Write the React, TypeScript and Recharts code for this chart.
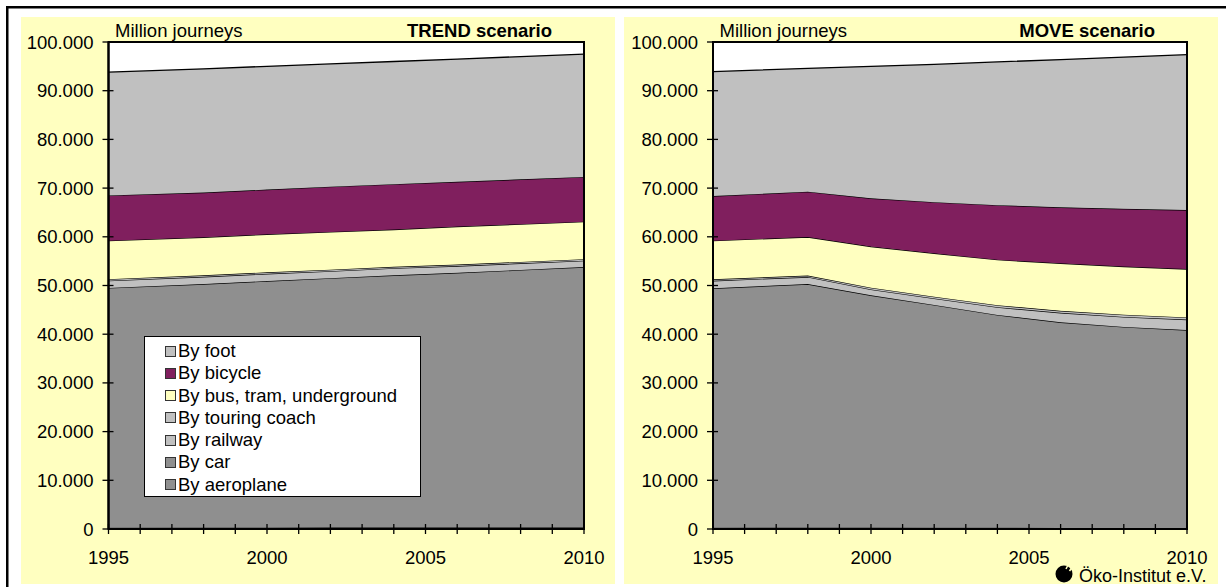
import React from 'react';
import { AreaChart, Area, XAxis, YAxis, CartesianGrid, ReferenceArea } from 'recharts';

// Years with readings, and the axis tick lists
const years = [1995, 1998, 2000, 2002, 2004, 2006, 2008, 2010];
const yearTicks = [1995, 1996, 1997, 1998, 1999, 2000, 2001, 2002, 2003, 2004, 2005, 2006, 2007, 2008, 2009, 2010];
const valueTicks = [0, 10000, 20000, 30000, 40000, 50000, 60000, 70000, 80000, 90000, 100000];

// Series, bottom of the stack first
const seriesKeys = ['aeroplane', 'car', 'railway', 'coach', 'bus', 'bicycle', 'foot'];
const seriesLabels = ['By aeroplane', 'By car', 'By railway', 'By touring coach', 'By bus, tram, underground', 'By bicycle', 'By foot'];

// TREND scenario, million journeys per mode
const trendAeroplane = [250, 270, 280, 290, 300, 310, 320, 330];
const trendCar = [49250, 50030, 50620, 51210, 51800, 52290, 52880, 53470];
const trendRailway = [1500, 1500, 1500, 1450, 1450, 1400, 1350, 1300];
const trendCoach = [300, 300, 300, 300, 300, 300, 300, 300];
const trendBus = [7900, 7800, 7800, 7750, 7650, 7800, 7750, 7700];
const trendBicycle = [9300, 9200, 9200, 9300, 9300, 9200, 9200, 9200];
const trendFoot = [25300, 25400, 25300, 25200, 25200, 25200, 25200, 25200];

// MOVE scenario, million journeys per mode
const moveAeroplane = [250, 270, 260, 250, 240, 230, 220, 210];
const moveCar = [49180, 50030, 47740, 45750, 43710, 42220, 41280, 40640];
const moveRailway = [1550, 1450, 1200, 1350, 1600, 1950, 2050, 2150];
const moveCoach = [300, 300, 350, 350, 400, 400, 450, 450];
const moveBus = [7920, 7910, 8450, 8900, 9350, 9750, 9900, 9940];
const moveBicycle = [9180, 9300, 9900, 10500, 11200, 11500, 11850, 12110];
const moveFoot = [25520, 25340, 27100, 28300, 29400, 30350, 31150, 31900];

const COLORS: Record<string, string> = {
  aeroplane: '#8f8f8f',
  car: '#8f8f8f',
  railway: '#c0c0c0',
  coach: '#c0c0c0',
  bus: '#ffffc0',
  bicycle: '#801f5e',
  foot: '#c0c0c0',
};

const FONT = "Arial, 'Liberation Sans', Helvetica, sans-serif";
const FS = 18.5;
const PANEL = '#ffffc0';

const buildRows = (cols: number[][]) =>
  years.map((year, i) => {
    const row: Record<string, number> = { year };
    seriesKeys.forEach((k, j) => {
      row[k] = cols[j][i];
    });
    return row;
  });

const trendRows = buildRows([trendAeroplane, trendCar, trendRailway, trendCoach, trendBus, trendBicycle, trendFoot]);
const moveRows = buildRows([moveAeroplane, moveCar, moveRailway, moveCoach, moveBus, moveBicycle, moveFoot]);

const fmtThousands = (v: number) => String(v).replace(/\B(?=(\d{3})+(?!\d))/g, '.');

const Y_MARGIN = 15;
const X_MARGIN = 22;

const YTick = (props: any) => {
  const { x, y, payload } = props;
  const axisX = x + Y_MARGIN;
  return (
    <g>
      <line x1={axisX - 6} x2={axisX + 5} y1={y} y2={y} stroke="#000" strokeWidth={1.3} />
      <text x={x} y={y} dy="0.355em" textAnchor="end" fontSize={FS} fontFamily={FONT} fill="#000">
        {fmtThousands(payload.value)}
      </text>
    </g>
  );
};

const XTick = (props: any) => {
  const { x, y, payload } = props;
  const axisY = y - X_MARGIN;
  const label = payload.value % 5 === 0 ? String(payload.value) : '';
  return (
    <g>
      <line x1={x} x2={x} y1={axisY - 5} y2={axisY + 5} stroke="#000" strokeWidth={1.3} />
      {label && (
        <text x={x} y={y} dy="0.71em" textAnchor="middle" fontSize={FS} fontFamily={FONT} fill="#000">
          {label}
        </text>
      )}
    </g>
  );
};

const CHART_W = 594;
const CHART_H = 567;

const StackChart = ({ rows, yAxisWidth }: { rows: Record<string, number>[]; yAxisWidth: number }) => (
  <AreaChart width={CHART_W} height={CHART_H} data={rows} margin={{ top: 25, right: 31, bottom: 15, left: 0 }}>
    <CartesianGrid horizontal={false} vertical={false} fill="#ffffff" />
    {seriesKeys.map((k) => (
      <Area
        key={k}
        type="linear"
        dataKey={k}
        name={seriesLabels[seriesKeys.indexOf(k)]}
        stackId="modes"
        stroke="#000"
        strokeWidth={1.3}
        fill={COLORS[k]}
        fillOpacity={1}
        dot={false}
        activeDot={false}
        isAnimationActive={false}
      />
    ))}
    <ReferenceArea x1={1995} x2={2010} y1={0} y2={100000} fill="none" stroke="#000" strokeWidth={2} />
    <XAxis
      dataKey="year"
      type="number"
      domain={[1995, 2010]}
      ticks={yearTicks}
      interval={0}
      height={40}
      tickSize={0}
      tickMargin={X_MARGIN}
      tickLine={false}
      tick={<XTick />}
      axisLine={{ stroke: '#000', strokeWidth: 2 }}
    />
    <YAxis
      type="number"
      domain={[0, 100000]}
      ticks={valueTicks}
      interval={0}
      width={yAxisWidth}
      tickSize={0}
      tickMargin={Y_MARGIN}
      tickLine={false}
      tick={<YTick />}
      axisLine={{ stroke: '#000', strokeWidth: 2 }}
    />
  </AreaChart>
);

const Legend = () => {
  const order = [...seriesKeys].reverse();
  return (
    <div
      style={{
        position: 'absolute',
        left: 144,
        top: 336,
        width: 277,
        height: 161,
        boxSizing: 'border-box',
        border: '1px solid #000',
        background: '#fff',
        paddingTop: 3,
        fontFamily: FONT,
        fontSize: FS,
        color: '#000',
      }}
    >
      {order.map((k) => (
        <div key={k} style={{ display: 'flex', alignItems: 'center', height: 22.27, lineHeight: '22.27px', whiteSpace: 'nowrap' }}>
          <span
            style={{
              display: 'inline-block',
              width: 11,
              height: 11,
              boxSizing: 'border-box',
              marginLeft: 20,
              marginRight: 2,
              background: COLORS[k],
              border: '1px solid #333',
            }}
          />
          <span>{seriesLabels[seriesKeys.indexOf(k)]}</span>
        </div>
      ))}
    </div>
  );
};

export default function App() {
  return (
    <div style={{ position: 'absolute', left: 0, top: 0, width: 1226, height: 587, background: '#fff', overflow: 'hidden' }}>
      <svg width={1226} height={587} style={{ position: 'absolute', left: 0, top: 0 }}>
        <rect x={6} y={6} width={1220} height={2.5} fill="#000" />
        <rect x={6} y={6} width={2.5} height={581} fill="#000" />
        <rect x={21} y={17} width={594} height={567} fill={PANEL} />
        <rect x={624} y={17} width={594} height={567} fill={PANEL} />
        <g fontFamily={FONT} fontSize={FS} fill="#000">
          <text x={115} y={37}>Million journeys</text>
          <text x={552} y={37} textAnchor="end" fontWeight="bold">TREND scenario</text>
          <text x={719.5} y={37}>Million journeys</text>
          <text x={1155} y={37} textAnchor="end" fontWeight="bold">MOVE scenario</text>
        </g>
        <g>
          <circle cx={1064} cy={574} r={8.5} fill="#000" />
          <line x1={1066} y1={569} x2={1068.5} y2={564} stroke={PANEL} strokeWidth={1.6} />
          <line x1={1069.5} y1={571} x2={1073} y2={566} stroke={PANEL} strokeWidth={1.6} />
        </g>
        <text x={1079} y={582} fontFamily={FONT} fontSize={18} fill="#000">Öko-Institut e.V.</text>
      </svg>
      <div style={{ position: 'absolute', left: 21, top: 17 }}>
        <StackChart rows={trendRows} yAxisWidth={87.5} />
      </div>
      <div style={{ position: 'absolute', left: 624, top: 17 }}>
        <StackChart rows={moveRows} yAxisWidth={89} />
      </div>
      <Legend />
    </div>
  );
}
